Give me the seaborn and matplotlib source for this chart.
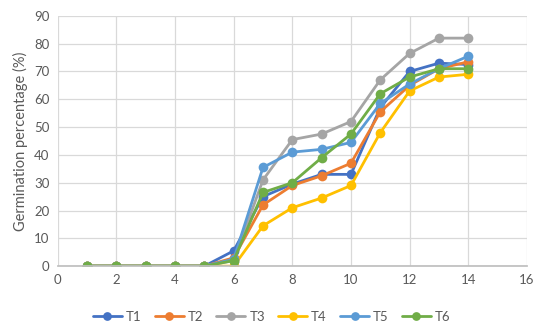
import matplotlib
matplotlib.use("Agg")
import matplotlib.pyplot as plt
import seaborn as sns
import pandas as pd

days = [1, 2, 3, 4, 5, 6, 7, 8, 9, 10, 11, 12, 13, 14]
T1 = [0, 0, 0, 0, 0, 5.5, 25, 29.5, 33, 33, 57, 70, 73, 72.5]
T2 = [0, 0, 0, 0, 0, 3, 22, 29, 32.5, 37, 55.5, 65, 71, 73.5]
T3 = [0, 0, 0, 0, 0, 2, 31, 45.5, 47.5, 52, 67, 76.5, 82, 82]
T4 = [0, 0, 0, 0, 0, 0, 14.5, 21, 24.5, 29, 48, 63, 68, 69]
T5 = [0, 0, 0, 0, 0, 2.5, 35.5, 41, 42, 44.5, 58.5, 65.5, 71, 75.5]
T6 = [0, 0, 0, 0, 0, 2, 26.5, 30, 39, 47.5, 62, 68, 71, 71]
series_names = ["T1", "T2", "T3", "T4", "T5", "T6"]
colors = ["#4472C4", "#ED7D31", "#A5A5A5", "#FFC000", "#5B9BD5", "#70AD47"]
ylabel = "Germination percentage (%)"

sns.set_theme(style="white")
plt.rcParams['font.family'] = ['Lato', 'DejaVu Sans']

rows = []
for name, vals in zip(series_names, [T1, T2, T3, T4, T5, T6]):
    for d, v in zip(days, vals):
        rows.append({"day": d, "value": v, "series": name})
df = pd.DataFrame(rows)

fig = plt.figure(figsize=(5.5, 3.31), dpi=100)
ax = fig.add_axes([0.105, 0.196, 0.853, 0.756])
sns.lineplot(data=df, x="day", y="value", hue="series", hue_order=series_names,
             palette=colors, marker="o", markersize=7, markeredgewidth=0,
             linewidth=2, ax=ax, legend=True)

ax.set_xlim(0, 16)
ax.set_ylim(0, 90)
ax.set_xticks(range(0, 17, 2))
ax.set_yticks(range(0, 91, 10))
ax.grid(True, color="#D9D9D9", linewidth=0.9)
ax.set_axisbelow(True)
for s in ["top", "right", "left"]:
    ax.spines[s].set_visible(False)
ax.spines["bottom"].set_color("#BFBFBF")
ax.tick_params(axis="both", colors="#595959", labelsize=9.5, length=0, pad=6)
ax.set_xlabel("")
ax.set_ylabel(ylabel, color="#595959", fontsize=10.5)

ax.legend(loc="upper center", bbox_to_anchor=(0.456, -0.13), ncol=6, frameon=False,
          fontsize=9.5, labelcolor="#595959", handlelength=2.2, columnspacing=1.0,
          handletextpad=0.3, markerscale=0.9)

fig.savefig("out.png", dpi=100)
